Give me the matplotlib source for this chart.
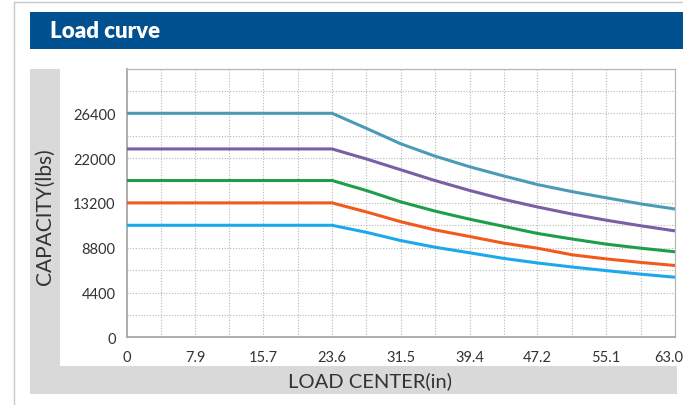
import numpy as np
import matplotlib
matplotlib.use("Agg")
import matplotlib.pyplot as plt
import matplotlib.transforms as mtransforms
from matplotlib.patches import Rectangle

# load center (in) and capacity (lbs)
LOAD_CENTER = [0, 23.6, 27.6, 31.5, 35.4, 39.4, 43.3, 47.2, 51.2, 55.1, 59.1, 63.0]
CAP_TEAL   = [26400, 26400, 24900, 23400, 22200, 20300, 18500, 16800, 15400, 14200, 13100, 12600]
CAP_PURPLE = [22900, 22900, 21800, 19700, 17600, 15650, 13900, 12800, 12100, 11500, 10950, 10450]
CAP_GREEN  = [17600, 17600, 15600, 13400, 12400, 11600, 10900, 10200, 9650, 9150, 8750, 8400]
CAP_ORANGE = [13200, 13200, 12300, 11350, 10550, 9900, 9250, 8750, 8100, 7700, 7350, 7050]
CAP_BLUE   = [11000, 11000, 10300, 9500, 8850, 8300, 7750, 7300, 6900, 6550, 6200, 5900]

X_TICKS = [0, 7.9, 15.7, 23.6, 31.5, 39.4, 47.2, 55.1, 63.0]
X_TICK_LABELS = ["0", "7.9", "15.7", "23.6", "31.5", "39.4", "47.2", "55.1", "63.0"]
# the printed y axis puts these labels at even spacing (17600 is skipped)
Y_TICKS = [0, 4400, 8800, 13200, 22000, 26400]
Y_TICK_LABELS = ["0", "4400", "8800", "13200", "22000", "26400"]
Y_TOP = 30800

SERIES = [
    (CAP_TEAL, "#4c9bb6"),
    (CAP_PURPLE, "#7a5ea6"),
    (CAP_GREEN, "#1c9e4a"),
    (CAP_ORANGE, "#f25a1d"),
    (CAP_BLUE, "#1ea8ec"),
]

W, H = 683, 406
fig = plt.figure(figsize=(W / 100, H / 100), dpi=100)
fig.patch.set_facecolor("white")


def px_rect(x0, y0, x1, y1, **kw):
    # rectangle in pixel coords (origin top-left), kept behind the axes
    fig.add_artist(Rectangle((x0 / W, 1 - y1 / H), (x1 - x0) / W, (y1 - y0) / H,
                             transform=fig.transFigure, zorder=-10, **kw))


# outer frame, title bar, grey panel
px_rect(14, 3, 700, 420, facecolor="none", edgecolor="#c9c9c9", lw=1.0)
px_rect(30, 13, 700, 50, facecolor="#01508f", edgecolor="none")
fig.text(50 / W, 1 - 31.5 / H, "Load curve", color="white", fontsize=16,
         fontweight="heavy", family="Lato", va="center", ha="left")
px_rect(30, 70, 677, 395, facecolor="#d9d9d9", edgecolor="none")
px_rect(60, 70, 677, 367, facecolor="white", edgecolor="none")

ax = fig.add_axes([126.7 / W, 1 - 338.3 / H, (675 - 126.7) / W, (338.3 - 69.5) / H])

# piecewise scale so that the labelled values sit at even steps
label_vals = Y_TICKS + [Y_TOP]
steps = np.arange(len(label_vals), dtype=float)
ax.set_yscale("function",
              functions=(lambda v: np.interp(v, label_vals, steps),
                         lambda p: np.interp(p, steps, label_vals)))

for caps, col in SERIES:
    ax.plot(LOAD_CENTER, caps, color=col, lw=2.2, solid_joinstyle="round",
            solid_capstyle="butt", zorder=3)

ax.set_xlim(0, 63.0)
ax.set_ylim(0, Y_TOP)
ax.set_xticks(X_TICKS)
ax.set_xticklabels(X_TICK_LABELS)
ax.set_yticks(Y_TICKS)
ax.set_yticklabels(Y_TICK_LABELS)
x_minor = [(a + b) / 2 for a, b in zip(X_TICKS[:-1], X_TICKS[1:])]
y_minor = np.interp(steps[:-1] + 0.5, steps, label_vals)
ax.set_xticks(x_minor, minor=True)
ax.set_yticks(list(y_minor) + [Y_TOP], minor=True)

ax.grid(True, which="both", color="#b8b8b8", ls=(0, (1, 1.5)), lw=0.8)
ax.tick_params(which="both", length=0)
ax.tick_params(axis="x", pad=9, labelsize=10.5, labelcolor="#333333")
ax.tick_params(axis="y", pad=8, labelsize=10.5, labelcolor="#333333")
for lab in ax.get_xticklabels() + ax.get_yticklabels():
    lab.set_family("Lato")
# last x label sits a little inside the right edge
last = ax.get_xticklabels()[-1]
last.set_ha("right")
last.set_transform(last.get_transform() +
                   mtransforms.ScaledTranslation(8 / 100, 0, fig.dpi_scale_trans))
for side, sp in ax.spines.items():
    sp.set_color("#a8a8a8" if side in ("left", "bottom") else "#b8b8b8")
    sp.set_linewidth(1.3 if side in ("left", "bottom") else 0.9)

fig.text(45 / W, 1 - 217 / H, "CAPACITY(lbs)", rotation=90, fontsize=15,
         family="Lato", color="#333333", ha="center", va="center")
fig.text(370 / W, 1 - 381 / H, "LOAD CENTER(in)", fontsize=14.5,
         family="Lato", color="#333333", ha="center", va="center")

fig.savefig("out.png", dpi=100, facecolor=fig.get_facecolor())
